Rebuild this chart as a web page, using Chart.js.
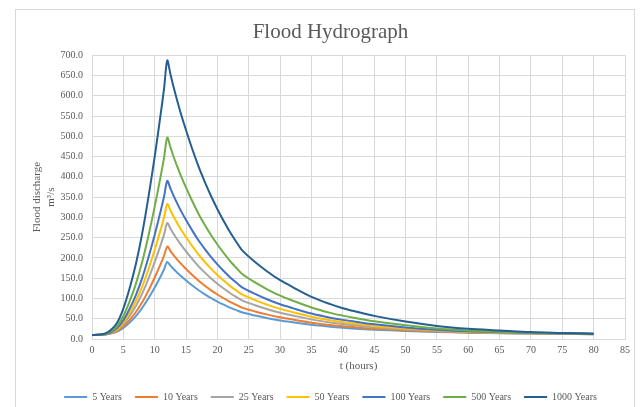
<!DOCTYPE html>
<html>
<head>
<meta charset="utf-8">
<script src="https://cdn.jsdelivr.net/npm/chart.js@4.4.1/dist/chart.umd.min.js"></script>
<style>
  html, body { margin: 0; padding: 0; background: #fff; }
  #wrap { width: 643px; height: 407px; }
</style>
</head>
<body>
<div id="wrap"><canvas id="hydroChart" width="643" height="407"></canvas></div>
<script>
const hours = [0, 1, 2, 3, 4, 5, 6, 7, 8, 9, 10, 11, 11.5, 12, 12.5, 13, 14, 15, 16, 17, 18, 19, 20,
  21, 22, 23, 24, 26, 28, 30, 32, 35, 38, 40, 42, 45, 50, 55, 60, 65, 70, 75, 80];

const seriesNames = ['5 Years', '10 Years', '25 Years', '50 Years', '100 Years', '500 Years', '1000 Years'];
const seriesColors = ['#5B9BD5', '#ED7D31', '#A5A5A5', '#FFC000', '#4472C4', '#70AD47', '#255E91'];

const q5 = [10, 10.1, 10.8, 13.2, 18, 27.3, 40.6, 56.6, 76.4, 100.4, 127, 156.2, 172, 190, 181, 172.7, 157.6, 144.3, 131.9, 120.3, 110.3, 100.9, 92.4,
  84.7, 77.5, 71.2, 65.3, 57.9, 51.4, 45.8, 41.3, 35, 30.2, 27.6, 25.5, 23, 20, 17.5, 15.5, 14.3, 13.3, 12.5, 11.8];
const q10 = [10, 10.2, 11, 13.9, 19.7, 30.9, 47.1, 66.5, 90.4, 119.4, 151.7, 187, 206, 228, 217.5, 207.1, 188.8, 172.6, 157.6, 143.6, 131.4, 120.1, 109.8,
  100.5, 91.8, 84.1, 76.9, 68, 60.1, 53.4, 47.9, 40.3, 34.4, 31.4, 28.7, 25, 21.5, 18.5, 16, 14.8, 13.8, 12.8, 12];
const q25 = [10, 10.2, 11.2, 14.9, 22.2, 36.5, 56.9, 81.5, 111.8, 148.6, 189.4, 234.1, 258, 286, 272.7, 259.5, 236.3, 215.9, 196.9, 179.2, 163.7, 149.4, 136.4,
  124.5, 113.5, 103.8, 94.7, 83.4, 73.5, 64.9, 58, 48.4, 40.9, 37, 33.7, 29, 24, 20, 17, 15.5, 14.2, 13.2, 12.3];
const q50 = [10, 10.2, 11.4, 15.7, 24.3, 41, 64.9, 93.7, 129.2, 172.1, 220, 272.3, 300.7, 333, 317.5, 302, 274.9, 251, 228.7, 208, 189.9, 173.1, 157.9,
  144, 131.1, 119.8, 109.2, 95.9, 84.3, 74.3, 66.2, 54.9, 46.2, 41.7, 37.8, 32.3, 26, 21.5, 18, 16, 14.6, 13.5, 12.5];
const q100 = [10, 10.3, 11.7, 16.7, 26.8, 46.5, 74.6, 108.4, 150.2, 200.8, 257, 318.6, 352, 390, 371.8, 353.5, 321.6, 293.5, 267.3, 242.9, 221.7, 201.9, 184,
  167.7, 152.5, 139.2, 126.7, 111.1, 97.4, 85.6, 76.1, 62.8, 52.6, 47.2, 42.7, 36.2, 28.6, 23, 19, 16.8, 15, 13.8, 12.7];
const q500 = [10, 10.3, 12.1, 18.6, 31.6, 56.8, 92.8, 136.1, 189.7, 254.5, 326.6, 405.4, 448, 497, 473.6, 450.2, 409.3, 373.3, 339.7, 308.5, 281.3, 255.9, 233,
  212.1, 192.6, 175.6, 159.5, 139.5, 122, 106.9, 94.7, 77.7, 64.5, 57.7, 51.9, 43.6, 33.9, 25.8, 20.7, 17.9, 15.5, 14.2, 12.9];
const q1000 = [10, 10.5, 13, 22, 40, 75, 125, 185, 260, 350, 450, 560, 619, 687, 654, 622, 565, 515, 468, 425, 387, 352, 320,
  291, 264, 240, 218, 190, 166, 145, 128, 104, 86, 76, 68, 57, 43, 32, 25, 21, 17, 15, 13];

const allSeries = [q5, q10, q25, q50, q100, q500, q1000];

const textColor = '#595959';
const gridColor = '#D9D9D9';
const serif = '"Liberation Serif", "Times New Roman", serif';

// thin frame round the whole chart, like the spreadsheet chart box
const chartFrame = {
  id: 'chartFrame',
  beforeDraw(chart) {
    const c = chart.ctx;
    c.save();
    c.fillStyle = '#fff';
    c.fillRect(0, 0, chart.width, chart.height);
    c.strokeStyle = gridColor;
    c.lineWidth = 1;
    c.strokeRect(15.5, 9.5, 619, 420);
    c.restore();
  }
};

const datasets = allSeries.map((vals, i) => ({
  label: seriesNames[i],
  data: hours.map((t, k) => ({ x: t, y: vals[k] })),
  borderColor: seriesColors[i],
  backgroundColor: seriesColors[i],
  borderWidth: 2,
  pointRadius: 0,
  tension: 0.3,
  order: allSeries.length - i
}));

const ctx = document.getElementById('hydroChart').getContext('2d');
new Chart(ctx, {
  type: 'line',
  data: { datasets },
  options: {
    responsive: false,
    animation: false,
    layout: { padding: { left: 36, right: 18, top: 10, bottom: -5 } },
    plugins: {
      title: {
        display: true,
        text: 'Flood Hydrograph',
        color: textColor,
        font: { family: serif, size: 21, weight: 'normal' },
        padding: { top: 10, bottom: 10 }
      },
      legend: {
        position: 'bottom',
        labels: {
          color: textColor,
          font: { family: serif, size: 10 },
          boxWidth: 23,
          boxHeight: 2,
          padding: 13,
          sort: (a, b) => a.datasetIndex - b.datasetIndex,
          generateLabels: (chart) => Chart.defaults.plugins.legend.labels.generateLabels(chart)
            .map(item => Object.assign(item, { lineWidth: 0 }))
        }
      },
      tooltip: { enabled: false }
    },
    scales: {
      x: {
        type: 'linear',
        min: 0,
        max: 85,
        afterFit: (scale) => { scale.height = 40; },
        ticks: { stepSize: 5, color: textColor, font: { family: serif, size: 10 }, padding: 5, maxRotation: 0 },
        grid: { color: gridColor, drawTicks: false },
        border: { color: gridColor },
        title: {
          display: true,
          text: 't (hours)',
          color: textColor,
          font: { family: serif, size: 11 },
          padding: { top: 0, bottom: 6 }
        }
      },
      y: {
        min: 0,
        max: 700,
        afterFit: (scale) => { scale.width = 56; },
        ticks: {
          stepSize: 50,
          color: textColor,
          font: { family: serif, size: 10 },
          padding: 9,
          callback: (v) => v.toFixed(1)
        },
        grid: { color: gridColor, drawTicks: false },
        border: { color: gridColor },
        title: {
          display: true,
          text: ['Flood discharge', 'm³/s'],
          color: textColor,
          font: { family: serif, size: 11 },
          padding: { top: -5, bottom: 0 }
        }
      }
    }
  },
  plugins: [chartFrame]
});
</script>
</body>
</html>
